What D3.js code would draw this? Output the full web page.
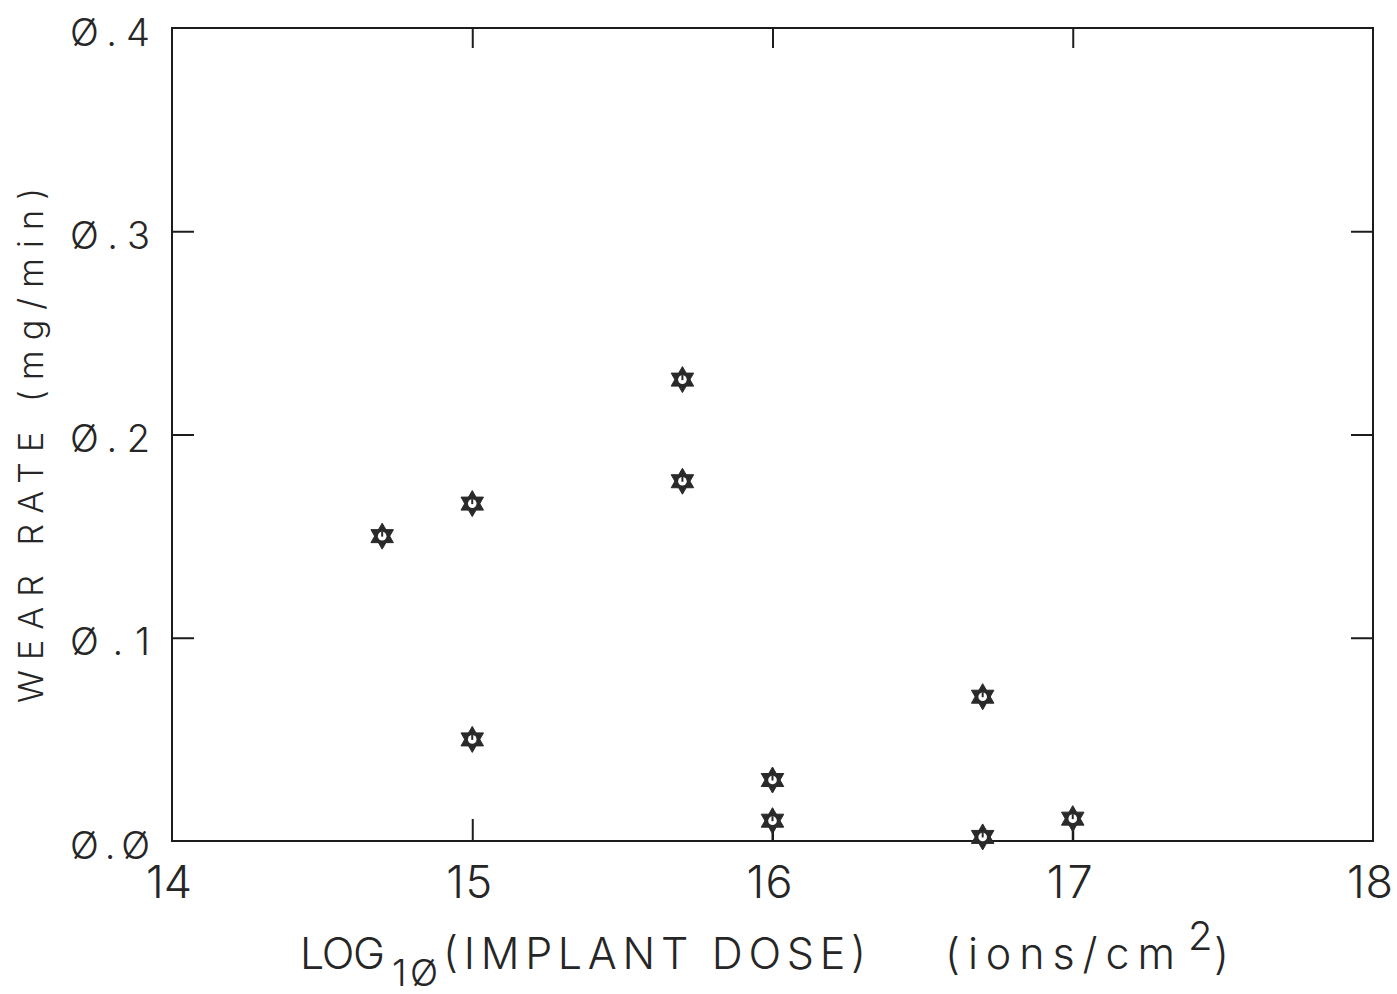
<!DOCTYPE html>
<html>
<head>
<meta charset="utf-8">
<script src="https://cdn.jsdelivr.net/npm/d3@7"></script>
<style>
  html, body { margin: 0; padding: 0; background: #fff; }
  svg { display: block; }
  text { font-family: Inter, Roboto, "DejaVu Sans", sans-serif; font-weight: 300; fill: #262626; }
</style>
</head>
<body>
<svg id="chart" width="1397" height="994"></svg>
<script>
// Wear rate versus implant dose
const doseLog  = [14.7, 15.0, 15.0, 15.7, 15.7, 16.0, 16.0, 16.7, 16.7, 17.0];
const wearRate = [0.150, 0.166, 0.050, 0.227, 0.177, 0.030, 0.010, 0.071, 0.002, 0.011];
// lower end of the vertical bar under a point (null = none)
const wearLow  = [null, null, null, null, null, null, 0.0, null, null, 0.0];

const doseTicks = [14, 15, 16, 17, 18];
const rateTicks = [0.0, 0.1, 0.2, 0.3, 0.4];
const innerDoseTicks = [15, 16, 17];
const innerRateTicks = [0.1, 0.2, 0.3];

const svg = d3.select("#chart");
const ink = "#1c1c1c";

const x = d3.scaleLinear().domain([14, 18]).range([172, 1373]);
const y = d3.scaleLinear().domain([0, 0.4]).range([841, 28]);

// plotter-style numerals use a slashed zero
const slashZero = s => s.replace(/0/g, "Ø");
const fmtRate = d => slashZero(d3.format(".1f")(d));

// frame
svg.append("rect")
  .attr("x", x(14)).attr("y", y(0.4))
  .attr("width", x(18) - x(14)).attr("height", y(0) - y(0.4))
  .attr("fill", "none").attr("stroke", ink).attr("stroke-width", 2);

function styleAxis(g) {
  g.select(".domain").remove();
  g.selectAll(".tick line").attr("stroke", ink).attr("stroke-width", 2);
}

// left axis with labels
const left = svg.append("g").attr("transform", `translate(${x(14)},0)`)
  .call(d3.axisLeft(y).tickValues(rateTicks).tickSizeInner(-22).tickSizeOuter(0).tickFormat(fmtRate))
  .call(styleAxis);
left.selectAll(".tick line").filter(d => d === 0 || d === 0.4).remove();
left.selectAll(".tick text")
  .attr("x", -22).attr("y", 17).attr("dy", 0)
  .attr("text-anchor", "end")
  .attr("font-size", 38)
  .attr("textLength", 80).attr("lengthAdjust", "spacing");

// right axis, ticks only
svg.append("g").attr("transform", `translate(${x(18)},0)`)
  .call(d3.axisRight(y).tickValues(innerRateTicks).tickSizeInner(-22).tickSizeOuter(0).tickFormat(""))
  .call(styleAxis);

// top axis, ticks only
svg.append("g").attr("transform", `translate(0,${y(0.4)})`)
  .call(d3.axisTop(x).tickValues(innerDoseTicks).tickSizeInner(-20).tickSizeOuter(0).tickFormat(""))
  .call(styleAxis);

// bottom axis with labels
const bottom = svg.append("g").attr("transform", `translate(0,${y(0)})`)
  .call(d3.axisBottom(x).tickValues(doseTicks).tickSizeInner(-22).tickSizeOuter(0).tickFormat(d => String(d)))
  .call(styleAxis);
bottom.selectAll(".tick line").filter(d => d === 14 || d === 18).remove();
bottom.selectAll(".tick text")
  .attr("x", -3.5).attr("y", 57).attr("dy", 0)
  .attr("text-anchor", "middle")
  .attr("font-size", 45)
  .attr("textLength", 46).attr("lengthAdjust", "spacing");

// axis titles
const xTitle = [
  { t: "LOG", x: 300, base: 969, size: 43, len: 85 },
  { t: "1Ø", x: 392, base: 986, size: 37, len: 46 },
  { t: "(IMPLANT DOSE)", x: 443, base: 969, size: 43, len: 423 },
  { t: "(ions/cm", x: 945, base: 969, size: 43, len: 230 },
  { t: "2", x: 1188, base: 950, size: 40, len: 20 },
  { t: ")", x: 1214, base: 969, size: 43, len: 10 }
];
svg.append("g").selectAll("text").data(xTitle).join("text")
  .attr("x", d => d.x).attr("y", d => d.base)
  .attr("font-size", d => d.size)
  .attr("textLength", d => d.len).attr("lengthAdjust", "spacing")
  .text(d => d.t);

svg.append("text")
  .attr("transform", "translate(43,703) rotate(-90)")
  .attr("x", 0).attr("y", 0)
  .attr("font-size", 34)
  .attr("textLength", 515).attr("lengthAdjust", "spacing")
  .text("WEAR RATE (mg/min)");

// points: six-pointed star markers
const pts = doseLog.map((d, i) => ({ dose: d, rate: wearRate[i], low: wearLow[i] }));

svg.append("g").selectAll("line").data(pts.filter(p => p.low !== null)).join("line")
  .attr("x1", p => x(p.dose)).attr("x2", p => x(p.dose))
  .attr("y1", p => y(p.rate)).attr("y2", p => y(p.low))
  .attr("stroke", ink).attr("stroke-width", 2);

// symbol type: two overlapping equilateral triangles, size = circumradius squared
const symbolHexagram = {
  draw(context, size) {
    const r = Math.sqrt(size);
    for (const start of [-Math.PI / 2, Math.PI / 2]) {
      for (let k = 0; k < 3; k++) {
        const a = start + k * 2 * Math.PI / 3;
        const px = r * Math.cos(a), py = r * Math.sin(a);
        if (k === 0) context.moveTo(px, py); else context.lineTo(px, py);
      }
      context.closePath();
    }
  }
};
const star = d3.symbol().type(symbolHexagram).size(13 * 13);

const marks = svg.append("g").selectAll("g").data(pts).join("g")
  .attr("transform", p => `translate(${x(p.dose)},${y(p.rate)})`);
marks.append("path").attr("d", star)
  .attr("fill", "#2a2a2a").attr("fill-rule", "nonzero")
  .attr("stroke", "#2a2a2a").attr("stroke-width", 1).attr("stroke-linejoin", "round");
marks.append("circle").attr("r", 4.3).attr("fill", "#fff");
marks.append("rect").attr("x", -1).attr("y", -4.5).attr("width", 2).attr("height", 5).attr("fill", "#2a2a2a");
</script>
</body>
</html>
